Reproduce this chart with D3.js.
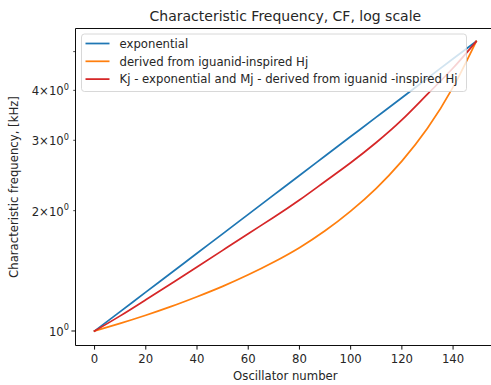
<!DOCTYPE html>
<html><head><meta charset="utf-8">
<script src="https://cdn.jsdelivr.net/npm/d3@7"></script>
<style>body{margin:0;background:#fff}svg{display:block}text{font-family:"DejaVu Sans",sans-serif;fill:#262626}</style>
</head><body>
<script>
const oscillator = [0,10,20,30,40,50,60,70,80,90,100,110,120,130,140,149];
const exponential = [1,1.118,1.251,1.399,1.565,1.750,1.958,2.190,2.449,2.740,3.065,3.428,3.834,4.289,4.797,5.30];
const iguanid = [1,1.045,1.095,1.152,1.218,1.293,1.382,1.488,1.616,1.781,1.995,2.275,2.661,3.214,4.074,5.30];
const mixed = [1,1.091,1.197,1.315,1.445,1.591,1.752,1.925,2.126,2.366,2.636,2.962,3.373,3.913,4.550,5.30];
const seriesNames = ["exponential","derived from iguanid-inspired Hj","Kj - exponential and Mj - derived from iguanid -inspired Hj"];
const seriesColors = ["#1f77b4","#ff7f0e","#d62728"];
const xTicks = [0,20,40,60,80,100,120,140];
const yMajorTicks = [1];
const yMinorTicks = [2,3,4,5];
const yMinorLabels = {2:"2",3:"3",4:"4"};

const W=491,H=385;
const L=75.5,R=495.2,T=28.5,B=345.5;
const FS=11.7, TS=14;
const svg=d3.select("body").append("svg").attr("width",W).attr("height",H);
const x=d3.scaleLinear().domain([-7.45,156.45]).range([L,R]);
const y=d3.scaleLog().domain([Math.pow(10,-0.0363),Math.pow(10,0.7568)]).range([B,T]);

const data=[exponential,iguanid,mixed];
const line=d3.line().x((d,i)=>x(oscillator[i])).y(d=>y(d)).curve(d3.curveNatural);
const g=svg.append("g");
g.append("clipPath").attr("id","c").append("rect").attr("x",L).attr("y",T).attr("width",R-L).attr("height",B-T);
data.forEach((s,k)=>{
  g.append("path").attr("d",line(s)).attr("fill","none").attr("stroke",seriesColors[k]).attr("stroke-width",1.75).attr("stroke-linecap","square").attr("clip-path","url(#c)");
});

// spines
const sw=0.95;
svg.append("line").attr("x1",L).attr("x2",L).attr("y1",T).attr("y2",B).attr("stroke","#000").attr("stroke-width",sw);
svg.append("line").attr("x1",L).attr("x2",R).attr("y1",B).attr("y2",B).attr("stroke","#000").attr("stroke-width",sw);
svg.append("line").attr("x1",L).attr("x2",R).attr("y1",T).attr("y2",T).attr("stroke","#000").attr("stroke-width",sw);
svg.append("line").attr("x1",R).attr("x2",R).attr("y1",T).attr("y2",B).attr("stroke","#000").attr("stroke-width",sw);

// x ticks
xTicks.forEach(t=>{
  svg.append("line").attr("x1",x(t)).attr("x2",x(t)).attr("y1",B).attr("y2",B+4.1).attr("stroke","#000").attr("stroke-width",sw);
  svg.append("text").attr("x",x(t)).attr("y",B+17.5).attr("text-anchor","middle").attr("font-size",FS).text(t);
});
// y ticks
function yLabel(v,mant){
  const t=svg.append("text").attr("x",L-6.5).attr("y",y(v)+5).attr("text-anchor","end").attr("font-size",FS);
  t.append("tspan").text(mant?mant+"\u00d710":"10");
  t.append("tspan").attr("dy",-5.5).attr("font-size",8.2).text("0");
}
yMajorTicks.forEach(v=>{
  svg.append("line").attr("x1",L-4.1).attr("x2",L).attr("y1",y(v)).attr("y2",y(v)).attr("stroke","#000").attr("stroke-width",sw);
  yLabel(v,null);
});
yMinorTicks.forEach(v=>{
  svg.append("line").attr("x1",L-2.3).attr("x2",L).attr("y1",y(v)).attr("y2",y(v)).attr("stroke","#000").attr("stroke-width",0.7);
  if(yMinorLabels[v]) yLabel(v,yMinorLabels[v]);
});

// labels
svg.append("text").attr("x",(L+R)/2).attr("y",21).attr("text-anchor","middle").attr("font-size",TS).text("Characteristic Frequency, CF, log scale");
svg.append("text").attr("x",(L+R)/2).attr("y",380).attr("text-anchor","middle").attr("font-size",FS).text("Oscillator number");
svg.append("text").attr("transform",`translate(18,${(T+B)/2}) rotate(-90)`).attr("text-anchor","middle").attr("font-size",FS).text("Characteristic frequency, [kHz]");

// legend
const lg=svg.append("g");
lg.append("rect").attr("x",81.5).attr("y",34).attr("width",385).attr("height",57.5).attr("rx",3)
  .attr("fill","#fff").attr("fill-opacity",0.8).attr("stroke","#ccc").attr("stroke-opacity",0.8).attr("stroke-width",0.95);
seriesNames.forEach((n,k)=>{
  const yy=43.5+k*17.8;
  lg.append("line").attr("x1",85.5).attr("x2",109.5).attr("y1",yy).attr("y2",yy).attr("stroke",seriesColors[k]).attr("stroke-width",1.75);
  lg.append("text").attr("x",119.5).attr("y",yy+4.2).attr("font-size",FS).text(n);
});
</script>
</body></html>
